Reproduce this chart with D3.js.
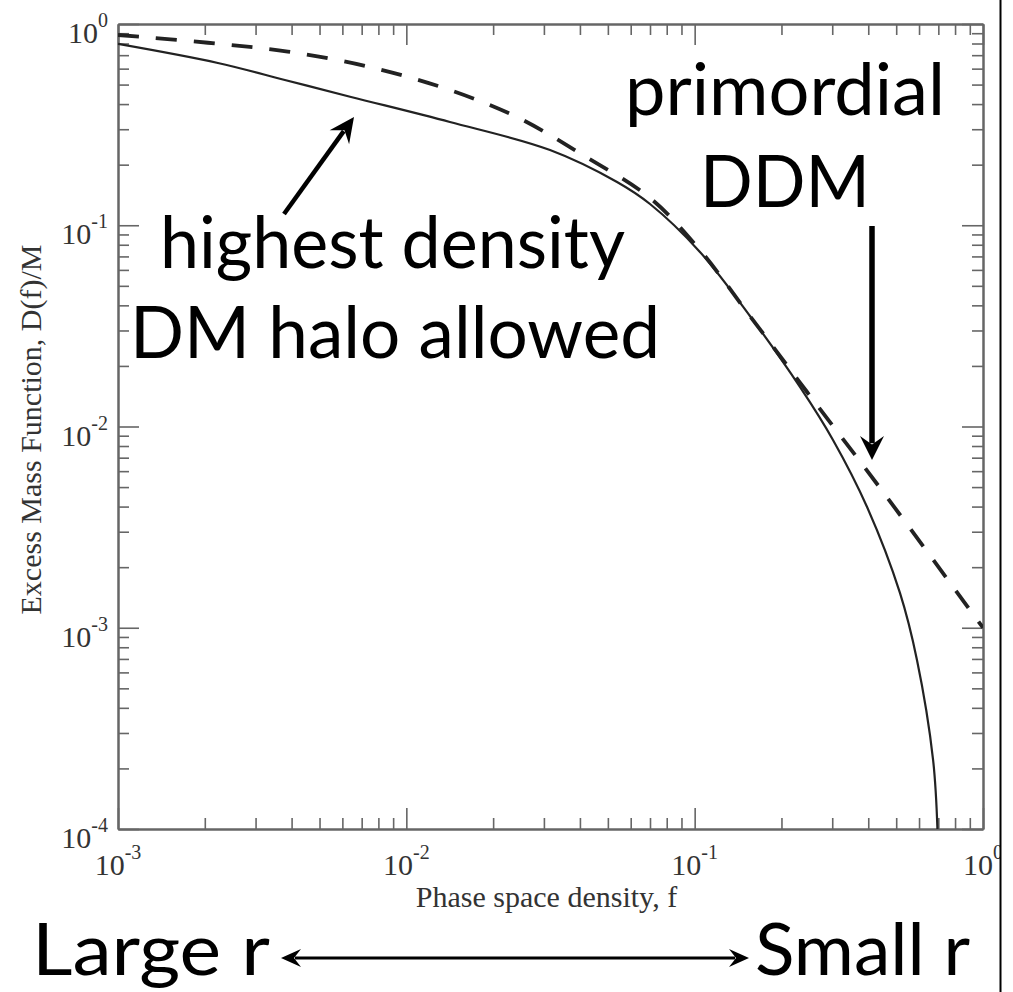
<!DOCTYPE html>
<html>
<head>
<meta charset="utf-8">
<script src="https://cdn.jsdelivr.net/npm/d3@7"></script>
<style>
  body { margin: 0; background: #fff; }
  svg { display: block; }
  .tick-label { font-family: "Liberation Serif", "DejaVu Serif", serif; fill: #333; }
  .axis-label { font-family: "Liberation Serif", "DejaVu Serif", serif; fill: #333; font-size: 30px; }
  .note { font-family: "Lato", "Open Sans", sans-serif; fill: #000; }
</style>
</head>
<body>
<div id="chart"></div>
<script>
// 1: DATA
// solid curve: highest density DM halo allowed
const fSolid = [0.001, 0.00222, 0.00379, 0.00643, 0.01416, 0.0315, 0.0538, 0.070, 0.1043, 0.1555, 0.2318, 0.3018, 0.3962, 0.5152, 0.5902, 0.6714, 0.695];
const dSolid = [0.796, 0.640, 0.527, 0.434, 0.326, 0.2365, 0.164, 0.1275, 0.0737, 0.0354, 0.01572, 0.00857, 0.00398, 0.001489, 0.000692, 0.000220, 0.0001];

// dashed curve: primordial DDM
const fDashed = [0.001, 0.00205, 0.00388, 0.00736, 0.01361, 0.0242, 0.0410, 0.070, 0.1043, 0.1555, 0.2454, 0.4395, 1.0];
const dDashed = [0.882, 0.807, 0.729, 0.614, 0.479, 0.345, 0.223, 0.1366, 0.0753, 0.0354, 0.01484, 0.00495, 0.001];

// tick labels
const xTickValues = [1e-3, 1e-2, 1e-1, 1];
const xTickExps = ["-3", "-2", "-1", "0"];
const yTickValues = [1e-4, 1e-3, 1e-2, 1e-1, 1];
const yTickExps = ["-4", "-3", "-2", "-1", "0"];

// 2: LAYOUT
const W = 1013, H = 992;
const margin = { top: 24, right: 30, bottom: 163, left: 118 };
const width = W - margin.left - margin.right;   // 865
const height = H - margin.top - margin.bottom;  // 805

const svgRoot = d3.select("#chart")
    .append("svg")
    .attr("width", W)
    .attr("height", H);

svgRoot.append("rect").attr("width", W).attr("height", H).attr("fill", "#fff");

const svg = svgRoot.append("g")
    .attr("transform", `translate(${margin.left},${margin.top})`);

// 3: SCALES
const xScale = d3.scaleLog().domain([1e-3, 1]).range([0, width]);
const yScale = d3.scaleLog().domain([1e-4, 1]).range([height, 0]);

// minor ticks 2..9 of every decade
function minorTicks(lo, hi) {
    const out = [];
    for (let e = lo; e < hi; e++) {
        for (let k = 2; k <= 9; k++) out.push(k * Math.pow(10, e));
    }
    return out;
}
const xMinor = minorTicks(-3, 0);
const yMinor = minorTicks(-4, 0);

// 4: AXES (ticks point inwards on all four sides)
const axisColor = "#666";
function styleAxis(g) {
    g.selectAll("path").attr("stroke", axisColor).attr("stroke-width", 2);
    g.selectAll("line").attr("stroke", axisColor).attr("stroke-width", 1.6);
    g.selectAll("text").remove();
}

[[21, xTickValues, yTickValues], [11, xMinor, yMinor]].forEach(([len, xv, yv]) => {
    svg.append("g").attr("transform", `translate(0,${height})`)
        .call(d3.axisBottom(xScale).tickValues(xv).tickSizeInner(-len).tickSizeOuter(0))
        .call(styleAxis);
    svg.append("g")
        .call(d3.axisTop(xScale).tickValues(xv).tickSizeInner(-len).tickSizeOuter(0))
        .call(styleAxis);
    svg.append("g")
        .call(d3.axisLeft(yScale).tickValues(yv).tickSizeInner(-len).tickSizeOuter(0))
        .call(styleAxis);
    svg.append("g").attr("transform", `translate(${width},0)`)
        .call(d3.axisRight(yScale).tickValues(yv).tickSizeInner(-len).tickSizeOuter(0))
        .call(styleAxis);
});

// 5: CURVES
svg.append("clipPath").attr("id", "plot-clip")
    .append("rect").attr("width", width).attr("height", height);

const line = d3.line()
    .x(d => xScale(d[0]))
    .y(d => yScale(d[1]))
    .curve(d3.curveCatmullRom.alpha(0.5));

svg.append("path")
    .datum(d3.zip(fDashed, dDashed))
    .attr("clip-path", "url(#plot-clip)")
    .attr("fill", "none")
    .attr("stroke", "#222")
    .attr("stroke-width", 3.8)
    .attr("stroke-dasharray", "21,17")
    .attr("d", line);

svg.append("path")
    .datum(d3.zip(fSolid, dSolid))
    .attr("clip-path", "url(#plot-clip)")
    .attr("fill", "none")
    .attr("stroke", "#222")
    .attr("stroke-width", 2.2)
    .attr("d", line);

// 6: TICK LABELS (10 with superscript)
xTickValues.forEach((v, i) => {
    const t = svg.append("text")
        .attr("class", "tick-label")
        .attr("x", xScale(v))
        .attr("y", height + 46)
        .attr("text-anchor", "middle");
    t.append("tspan").attr("font-size", "30px").text("10");
    t.append("tspan").attr("font-size", "20px").attr("dy", -16).text(xTickExps[i]);
});

yTickValues.forEach((v, i) => {
    const t = svg.append("text")
        .attr("class", "tick-label")
        .attr("x", -10)
        .attr("y", yScale(v) + 19)
        .attr("text-anchor", "end");
    t.append("tspan").attr("font-size", "30px").text("10");
    t.append("tspan").attr("font-size", "20px").attr("dy", -16).text(yTickExps[i]);
});

// axis titles
svg.append("text")
    .attr("class", "axis-label")
    .attr("x", width / 2 - 4)
    .attr("y", height + 78)
    .attr("text-anchor", "middle")
    .text("Phase space density, f");

svg.append("text")
    .attr("class", "axis-label")
    .attr("transform", "rotate(-90)")
    .attr("x", -height / 2 - 3)
    .attr("y", -77)
    .attr("text-anchor", "middle")
    .text("Excess Mass Function, D(f)/M");

// 7: ANNOTATIONS (slide overlay, page pixels)
const notes = [
    { text: "primordial", x: 625, y: 115, w: 320 },
    { text: "DDM", x: 700, y: 207, w: 170 },
    { text: "highest density", x: 160, y: 268, w: 465 },
    { text: "DM halo allowed", x: 130, y: 358, w: 530 },
    { text: "Large r", x: 32, y: 975, w: 238 },
    { text: "Small r", x: 755, y: 975, w: 215 }
];
svgRoot.selectAll("text.note")
    .data(notes)
    .join("text")
    .attr("class", "note")
    .attr("x", d => d.x)
    .attr("y", d => d.y)
    .attr("font-size", "72px")
    .attr("textLength", d => d.w)
    .attr("lengthAdjust", "spacingAndGlyphs")
    .text(d => d.text);

function arrow(g, x1, y1, x2, y2, sw, hl, hw, both) {
    const a = Math.atan2(y2 - y1, x2 - x1);
    const head = (tx, ty, ang) => {
        const bx = tx - hl * Math.cos(ang), by = ty - hl * Math.sin(ang);
        const px = -Math.sin(ang) * hw, py = Math.cos(ang) * hw;
        return `M${tx},${ty}L${bx + px},${by + py}L${bx + 0.35 * hl * Math.cos(ang)},${by + 0.35 * hl * Math.sin(ang)}L${bx - px},${by - py}Z`;
    };
    const s = both ? 0.7 * hl : 0;
    g.append("line")
        .attr("x1", x1 + s * Math.cos(a)).attr("y1", y1 + s * Math.sin(a))
        .attr("x2", x2 - 0.7 * hl * Math.cos(a)).attr("y2", y2 - 0.7 * hl * Math.sin(a))
        .attr("stroke", "#000").attr("stroke-width", sw);
    g.append("path").attr("d", head(x2, y2, a)).attr("fill", "#000");
    if (both) g.append("path").attr("d", head(x1, y1, a + Math.PI)).attr("fill", "#000");
}
const arrows = svgRoot.append("g");
arrow(arrows, 284, 214, 354, 117, 4.5, 25, 12, false);
arrow(arrows, 872, 226, 872, 460, 5.5, 24, 12, false);
arrow(arrows, 281, 958, 749, 958, 3, 20, 9, true);

// right edge: white strip and black border line
svgRoot.append("rect").attr("x", 1001).attr("y", 0).attr("width", 12).attr("height", H).attr("fill", "#fff");
svgRoot.append("line")
    .attr("x1", 1000.5).attr("x2", 1000.5).attr("y1", 0).attr("y2", H)
    .attr("stroke", "#000").attr("stroke-width", 2);
</script>
</body>
</html>
